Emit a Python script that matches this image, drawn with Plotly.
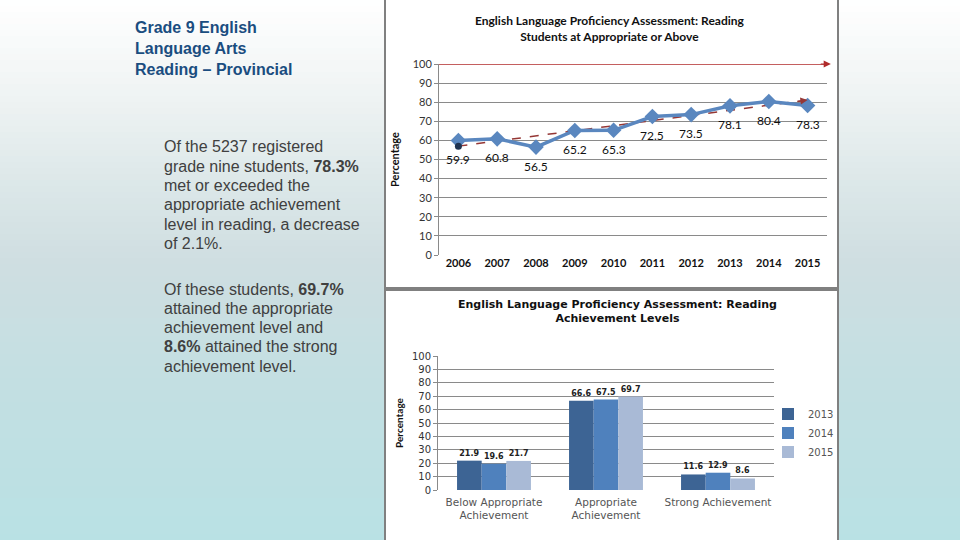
import plotly.graph_objects as go

# line chart data
years = ['2006', '2007', '2008', '2009', '2010', '2011', '2012', '2013', '2014', '2015']
reading_pct = [59.9, 60.8, 56.5, 65.2, 65.3, 72.5, 73.5, 78.1, 80.4, 78.3]
trend_x = ['2006', '2015']
trend_y = [57.0, 81.1]

# bar chart data
levels = ['Below Appropriate<br>Achievement', 'Appropriate<br>Achievement', 'Strong Achievement']
bar_years = ['2013', '2014', '2015']
level_pct = {
    '2013': [21.9, 66.6, 11.6],
    '2014': [19.6, 67.5, 12.9],
    '2015': [21.7, 69.7, 8.6],
}
bar_colors = {'2013': '#3d6494', '2014': '#4f81bd', '2015': '#a9bad6'}
y_ticks = [0, 10, 20, 30, 40, 50, 60, 70, 80, 90, 100]

W, H = 960, 540
def px(x):
    return x / W
def py(y):
    return 1 - y / H

calibri = 'Lato, Liberation Sans, sans-serif'
verdana = 'DejaVu Sans, Verdana, sans-serif'
arial = 'Liberation Sans, Arial, sans-serif'

fig = go.Figure()

# top chart
fig.add_trace(go.Scatter(
    x=trend_x, y=trend_y, mode='lines', xaxis='x', yaxis='y',
    line=dict(color='#953735', width=1.5, dash='dash'), showlegend=False, hoverinfo='skip'))
fig.add_trace(go.Scatter(
    x=years, y=reading_pct, mode='lines+markers', xaxis='x', yaxis='y',
    line=dict(color='#5a87bf', width=3.5),
    marker=dict(symbol='diamond', size=12, color='#5a87bf'),
    showlegend=False))
fig.add_trace(go.Scatter(
    x=trend_x[:1], y=trend_y[:1], mode='markers', xaxis='x', yaxis='y',
    marker=dict(size=7, color='#1f3350'), showlegend=False, hoverinfo='skip'))

# bottom chart
for yr in bar_years:
    fig.add_trace(go.Bar(
        x=levels, y=level_pct[yr], name=yr, xaxis='x2', yaxis='y2',
        marker=dict(color=bar_colors[yr], line=dict(width=0)),
        text=[f'{v:g}' for v in level_pct[yr]], textposition='outside', cliponaxis=False,
        textfont=dict(family=verdana, size=8, color='#222222', weight='bold')))

# background gradient bands
stops = [(0, (255, 255, 255)), (90, (240, 244, 244)), (180, (221, 232, 233)),
         (260, (207, 222, 225)), (380, (195, 223, 226)), (540, (185, 225, 228))]
shapes = []
band = 6
for y0 in range(0, H, band):
    yc = y0 + band / 2
    for (a, ca), (b, cb) in zip(stops[:-1], stops[1:]):
        if a <= yc <= b:
            t = (yc - a) / (b - a)
            c = tuple(round(ca[i] + (cb[i] - ca[i]) * t) for i in range(3))
            break
    shapes.append(dict(type='rect', xref='paper', yref='paper', x0=0, x1=1,
                       y0=py(y0 + band + 1), y1=py(y0), fillcolor='rgb(%d,%d,%d)' % c,
                       line=dict(width=0), layer='below'))

# chart boxes
for (y0, y1) in [(-1, 288), (290, 541)]:
    shapes.append(dict(type='rect', xref='paper', yref='paper', x0=px(385), x1=px(838),
                       y0=py(y1), y1=py(y0), fillcolor='white',
                       line=dict(color='#808080', width=2), layer='below'))

# red target line at 100
shapes.append(dict(type='line', xref='x', yref='y', x0=-0.5, x1=9.55, y0=100, y1=100,
                   line=dict(color='#b02a2a', width=1.5)))

annotations = [
    dict(text='<b>English Language Proficiency Assessment: Reading<br>Students at Appropriate or Above</b>',
         x=px(610), y=py(29), xref='paper', yref='paper', showarrow=False,
         font=dict(family=calibri, size=12, color='#111111'), xanchor='center', yanchor='middle'),
    dict(text='<b>English Language Proficiency Assessment: Reading<br>Achievement Levels</b>',
         x=px(617), y=py(311), xref='paper', yref='paper', showarrow=False,
         font=dict(family=verdana, size=11, color='#111111'), xanchor='center', yanchor='middle'),
    # arrowheads
    dict(x=9.6, y=100, ax=9.3, ay=100, xref='x', yref='y', axref='x', ayref='y', text='',
         showarrow=True, arrowhead=2, arrowsize=1.2, arrowwidth=1.2, arrowcolor='#b02a2a'),
    dict(x=9, y=trend_y[1], ax=8.7, ay=trend_y[1] - 0.8, xref='x', yref='y', axref='x', ayref='y',
         text='', showarrow=True, arrowhead=2, arrowsize=1.2, arrowwidth=1.2, arrowcolor='#953735'),
]

# point labels below each marker (category axis -> use category index)
for i, v in enumerate(reading_pct):
    annotations.append(dict(text=f'{v:.1f}', x=i, y=v, xref='x', yref='y', showarrow=False,
                            yshift=-19, xanchor='center', yanchor='middle',
                            font=dict(family=calibri, size=12, color='#111111')))

# slide text, one annotation per line
heading = ['Grade 9 English', 'Language Arts', 'Reading – Provincial']
for i, s in enumerate(heading):
    annotations.append(dict(text=f'<b>{s}</b>', x=px(133), y=py(27 + 21 * i), xref='paper', yref='paper',
                            showarrow=False, xanchor='left', yanchor='middle',
                            font=dict(family=arial, size=16, color='#1a4d80')))
body1 = ['Of the 5237 registered', 'grade nine students, <b>78.3%</b>', 'met or exceeded the',
         'appropriate achievement', 'level in reading, a decrease', 'of 2.1%.']
body2 = ['Of these students, <b>69.7%</b>', 'attained the appropriate', 'achievement level and',
         '<b>8.6%</b> attained the strong', 'achievement level.']
for start, lines in [(147, body1), (289, body2)]:
    for i, s in enumerate(lines):
        annotations.append(dict(text=s, x=px(162), y=py(start + 19.3 * i), xref='paper', yref='paper',
                                showarrow=False, xanchor='left', yanchor='middle',
                                font=dict(family=arial, size=16, color='#404040')))

fig.update_layout(
    width=W, height=H, margin=dict(l=0, r=0, t=0, b=0, autoexpand=False),
    paper_bgcolor='white', plot_bgcolor='rgba(0,0,0,0)',
    shapes=shapes, annotations=annotations,
    barmode='group', bargap=0.34, bargroupgap=0,
    xaxis=dict(domain=[px(439), px(827)], type='category', range=[-0.5, 9.5],
               categoryorder='array', categoryarray=years, automargin=False,
               showgrid=False, showline=False, ticks='',
               tickfont=dict(family=calibri, size=11, color='#111111', weight='bold'),
               anchor='y'),
    yaxis=dict(domain=[py(255), py(64)], range=[0, 100], tickvals=y_ticks, automargin=False,
               showgrid=True, gridcolor='#8a8a8a', gridwidth=1, zeroline=False,
               showline=True, linecolor='#8a8a8a', ticks='outside', ticklen=4, tickcolor='#8a8a8a',
               tickfont=dict(family=calibri, size=11, color='#333333'),
               title=dict(text='<b>Percentage</b>', font=dict(family=calibri, size=11, color='#111111'),
                          standoff=10),
               anchor='x'),
    xaxis2=dict(domain=[px(438), px(774)], type='category', automargin=False,
                showgrid=False, showline=False, ticks='', ticklabelstandoff=4,
                tickfont=dict(family=verdana, size=10.5, color='#555555'),
                anchor='y2'),
    yaxis2=dict(domain=[py(490), py(356)], range=[0, 100], tickvals=y_ticks, automargin=False,
                showgrid=True, gridcolor='#8a8a8a', gridwidth=1, zeroline=False,
                showline=True, linecolor='#8a8a8a', ticks='outside', ticklen=4, tickcolor='#8a8a8a',
                tickfont=dict(family=verdana, size=10, color='#333333'),
                title=dict(text='<b>Percentage</b>', font=dict(family=calibri, size=10, color='#111111'),
                           standoff=6),
                anchor='x2'),
    legend=dict(x=px(768), y=py(433), xanchor='left', yanchor='middle',
                font=dict(family=verdana, size=10, color='#555555'),
                bgcolor='rgba(0,0,0,0)', itemwidth=30, tracegroupgap=4),
)

fig.write_html('out.html', config={'displayModeBar': False},
               post_script="document.body.style.margin='0';")
